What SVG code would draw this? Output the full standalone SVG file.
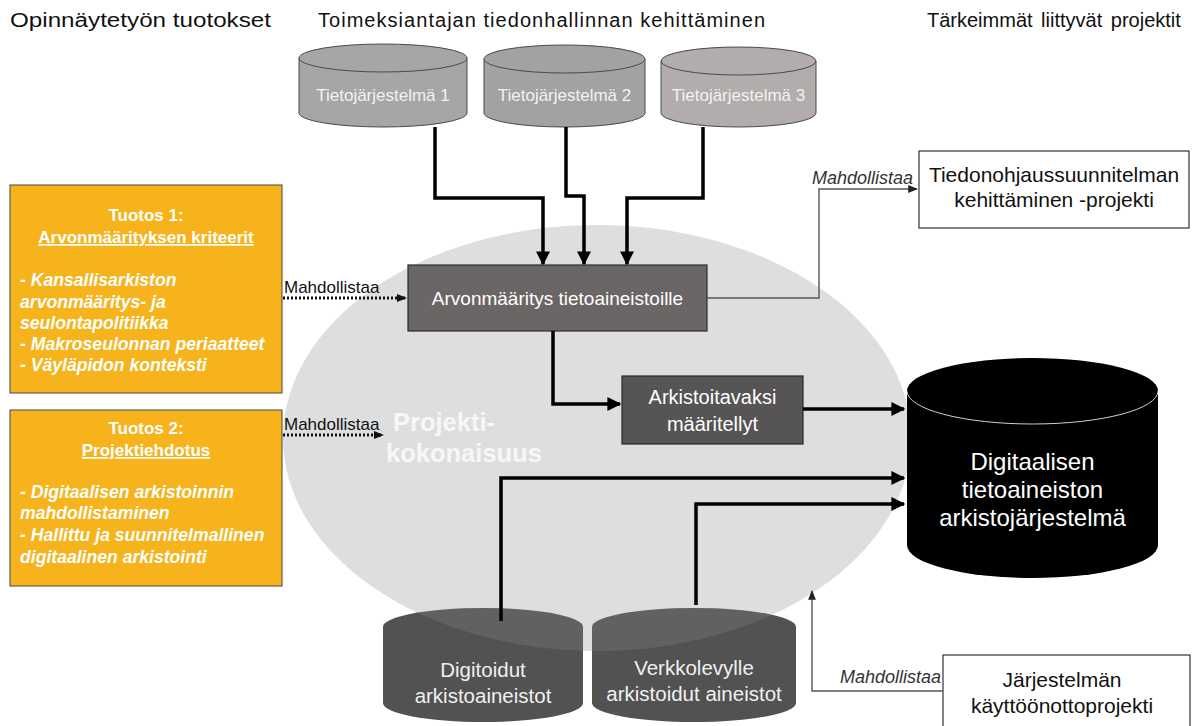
<svg xmlns="http://www.w3.org/2000/svg" width="1195" height="726" viewBox="0 0 1195 726">
<style>
.hd{font-family:"Liberation Sans",Arial,sans-serif;font-size:20px;fill:#111}
.cyt{font-family:"Liberation Sans",Arial,sans-serif;font-size:17px;fill:#f2f2f2;text-anchor:middle}
.wt{font-family:"Liberation Sans",Arial,sans-serif;font-size:20px;fill:#fff;text-anchor:middle}
.wtb{font-family:"Liberation Sans",Arial,sans-serif;font-size:20.5px;fill:#f0f0f0;text-anchor:middle}
.bt{font-family:"Liberation Sans",Arial,sans-serif;font-size:21px;fill:#111;text-anchor:middle}
.ct{font-family:"Liberation Sans",Arial,sans-serif;font-size:24px;fill:#fff;text-anchor:middle}
.tb{font-family:"Liberation Sans",Arial,sans-serif;font-size:17px;fill:#fff;font-weight:bold}
.ti{font-style:italic;font-size:17.6px}
.lb{font-family:"Liberation Sans",Arial,sans-serif;font-size:17px;fill:#111}
.lbi{font-family:"Liberation Sans",Arial,sans-serif;font-size:18px;fill:#333;font-style:italic}
.thick{fill:none;stroke:#000;stroke-width:3.5}
.thin{fill:none;stroke:#555;stroke-width:1.4}
.dot{fill:none;stroke:#111;stroke-width:3;stroke-dasharray:2 2}
</style>
<defs>
<marker id="ah" viewBox="0 0 10 10" refX="9" refY="5" markerWidth="4" markerHeight="4" orient="auto" markerUnits="strokeWidth"><path d="M0,0 L10,5 L0,10 Z" fill="#000"/></marker>
<marker id="ahs" viewBox="0 0 10 10" refX="9" refY="5" markerWidth="7" markerHeight="7" orient="auto" markerUnits="strokeWidth"><path d="M0,1 L10,5 L0,9 Z" fill="#222"/></marker>
<marker id="ahd" viewBox="0 0 10 10" refX="9" refY="5" markerWidth="3.5" markerHeight="3.5" orient="auto" markerUnits="strokeWidth"><path d="M0,1 L10,5 L0,9 Z" fill="#111"/></marker>
<clipPath id="botcyl">
<path d="M383,627 A100,19 0 0 1 583,627 V703 A100,19 0 0 1 383,703 Z"/>
<path d="M592,627 A102,19 0 0 1 796,627 V703 A102,19 0 0 1 592,703 Z"/>
</clipPath>
</defs>
<rect width="1195" height="726" fill="#fff"/>

<g id="headings">
<text class="hd" x="10" y="27" textLength="261" lengthAdjust="spacingAndGlyphs">Opinnäytetyön tuotokset</text>
<text class="hd" x="318" y="27" textLength="447" lengthAdjust="spacing">Toimeksiantajan tiedonhallinnan kehittäminen</text>
<text class="hd" x="927" y="27" word-spacing="3">Tärkeimmät liittyvät projektit</text>
</g>

<g id="projektikokonaisuus">
<ellipse cx="597" cy="438" rx="314" ry="213" fill="#dedede"/>
</g>

<g id="tietojarjestelma1">
<path d="M299,58 A84,14 0 0 1 467,58 V113 A84,14 0 0 1 299,113 Z" fill="#a6a6a6" stroke="#4a4a4a" stroke-width="1"/>
<path d="M299,58 A84,14 0 0 0 467,58" fill="none" stroke="#4a4a4a" stroke-width="1"/>
<text class="cyt" x="383" y="101">Tietojärjestelmä 1</text>
</g>
<g id="tietojarjestelma2">
<path d="M484,59 A80.5,14 0 0 1 645,59 V113 A80.5,14 0 0 1 484,113 Z" fill="#a2a2a2" stroke="#4a4a4a" stroke-width="1"/>
<path d="M484,59 A80.5,14 0 0 0 645,59" fill="none" stroke="#4a4a4a" stroke-width="1"/>
<text class="cyt" x="564.5" y="101">Tietojärjestelmä 2</text>
</g>
<g id="tietojarjestelma3">
<path d="M661,61 A77.5,14 0 0 1 816,61 V113 A77.5,14 0 0 1 661,113 Z" fill="#b2acac" stroke="#4a4a4a" stroke-width="1"/>
<path d="M661,61 A77.5,14 0 0 0 816,61" fill="none" stroke="#4a4a4a" stroke-width="1"/>
<text class="cyt" x="738.5" y="101">Tietojärjestelmä 3</text>
</g>

<g id="tuotos1">
<rect x="10" y="185" width="272" height="208" fill="#f6b31c" stroke="#444" stroke-width="1"/>
<text class="tb" x="146" y="221" text-anchor="middle">Tuotos 1:</text>
<text class="tb" x="146" y="243" text-anchor="middle" text-decoration="underline">Arvonmäärityksen kriteerit</text>
<text class="tb ti" x="20" y="286">- Kansallisarkiston</text>
<text class="tb ti" x="20" y="308">arvonmääritys- ja</text>
<text class="tb ti" x="20" y="329">seulontapolitiikka</text>
<text class="tb ti" x="20" y="350">- Makroseulonnan periaatteet</text>
<text class="tb ti" x="20" y="371">- Väyläpidon konteksti</text>
</g>

<g id="tuotos2">
<rect x="10" y="410" width="272" height="176" fill="#f6b31c" stroke="#444" stroke-width="1"/>
<text class="tb" x="146" y="434" text-anchor="middle">Tuotos 2:</text>
<text class="tb" x="146" y="456" text-anchor="middle" text-decoration="underline">Projektiehdotus</text>
<text class="tb ti" x="20" y="498">- Digitaalisen arkistoinnin</text>
<text class="tb ti" x="20" y="519">mahdollistaminen</text>
<text class="tb ti" x="20" y="541">- Hallittu ja suunnitelmallinen</text>
<text class="tb ti" x="20" y="563">digitaalinen arkistointi</text>
</g>

<g id="projekti-label">
<text x="393" y="431" font-family="Liberation Sans,Arial,sans-serif" font-size="25.5" font-weight="bold" fill="#f7f7f7">Projekti-</text>
<text x="386" y="462" font-family="Liberation Sans,Arial,sans-serif" font-size="25.5" font-weight="bold" fill="#f7f7f7">kokonaisuus</text>
</g>

<g id="arvonmaaritys">
<rect x="408" y="265" width="299" height="66" fill="#6b6666" stroke="#2a2a2a" stroke-width="1.2"/>
<text class="wt" x="557.5" y="305" style="font-size:19px">Arvonmääritys tietoaineistoille</text>
</g>

<g id="arkistoitavaksi">
<rect x="622" y="376" width="181" height="68" fill="#565454" stroke="#2a2a2a" stroke-width="1.2"/>
<text class="wt" x="712.5" y="404">Arkistoitavaksi</text>
<text class="wt" x="712.5" y="431">määritellyt</text>
</g>

<g id="digitoidut">
<path d="M383,627 A100,19 0 0 1 583,627 V703 A100,19 0 0 1 383,703 Z" fill="#525252"/>
<text class="wtb" x="483" y="677">Digitoidut</text>
<text class="wtb" x="483" y="703">arkistoaineistot</text>
</g>
<g id="verkkolevylle">
<path d="M592,627 A102,19 0 0 1 796,627 V703 A102,19 0 0 1 592,703 Z" fill="#525252"/>
<text class="wtb" x="694" y="675">Verkkolevylle</text>
<text class="wtb" x="694" y="701">arkistoidut aineistot</text>
</g>
<g id="overlay" clip-path="url(#botcyl)">
<ellipse cx="597" cy="438" rx="314" ry="213" fill="#fff" opacity="0.09"/>
</g>

<g id="arkistojarjestelma">
<path d="M907,391 A125.5,33 0 0 1 1158,391 V545 A125.5,33 0 0 1 907,545 Z" fill="#000"/>
<path d="M907,391 A125.5,33 0 0 0 1158,391" fill="none" stroke="#cfcfcf" stroke-width="1"/>
<text class="ct" x="1032.5" y="470">Digitaalisen</text>
<text class="ct" x="1032.5" y="498">tietoaineiston</text>
<text class="ct" x="1032.5" y="526">arkistojärjestelmä</text>
</g>

<g id="tiedonohjaus">
<rect x="919" y="151" width="270" height="77" fill="#fff" stroke="#333" stroke-width="1.2"/>
<text class="bt" x="1054" y="182">Tiedonohjaussuunnitelman</text>
<text class="bt" x="1054" y="207">kehittäminen -projekti</text>
</g>

<g id="kayttoonotto">
<rect x="943" y="655" width="247" height="75" fill="#fff" stroke="#333" stroke-width="1.2"/>
<text class="bt" x="1062" y="687">Järjestelmän</text>
<text class="bt" x="1062" y="713">käyttöönottoprojekti</text>
</g>

<g id="connectors">
<path class="thick" d="M435,127 V198 H543 V264" marker-end="url(#ah)"/>
<path class="thick" d="M566,127 V196 H584 V264" marker-end="url(#ah)"/>
<path class="thick" d="M703,127 V198 H627 V264" marker-end="url(#ah)"/>
<path class="thick" d="M553,331 V404 H620" marker-end="url(#ah)"/>
<path class="thick" d="M803,409 H904" marker-end="url(#ah)"/>
<path class="thick" d="M501,621 V478 H904" marker-end="url(#ah)"/>
<path class="thick" d="M696,605 V504 H904" marker-end="url(#ah)"/>
<path class="thin" d="M707,298 H819 V189 H917" marker-end="url(#ahs)"/>
<path class="thin" d="M943,691 H812 V591" marker-end="url(#ahs)"/>
<path class="dot" d="M283,298 H406" marker-end="url(#ahd)"/>
<path class="dot" d="M283,435 H383" marker-end="url(#ahd)"/>
<text class="lb" x="284" y="293">Mahdollistaa</text>
<text class="lb" x="284" y="430">Mahdollistaa</text>
<text class="lbi" x="913" y="184" text-anchor="end">Mahdollistaa</text>
<text class="lbi" x="941" y="683" text-anchor="end">Mahdollistaa</text>
</g>
</svg>
